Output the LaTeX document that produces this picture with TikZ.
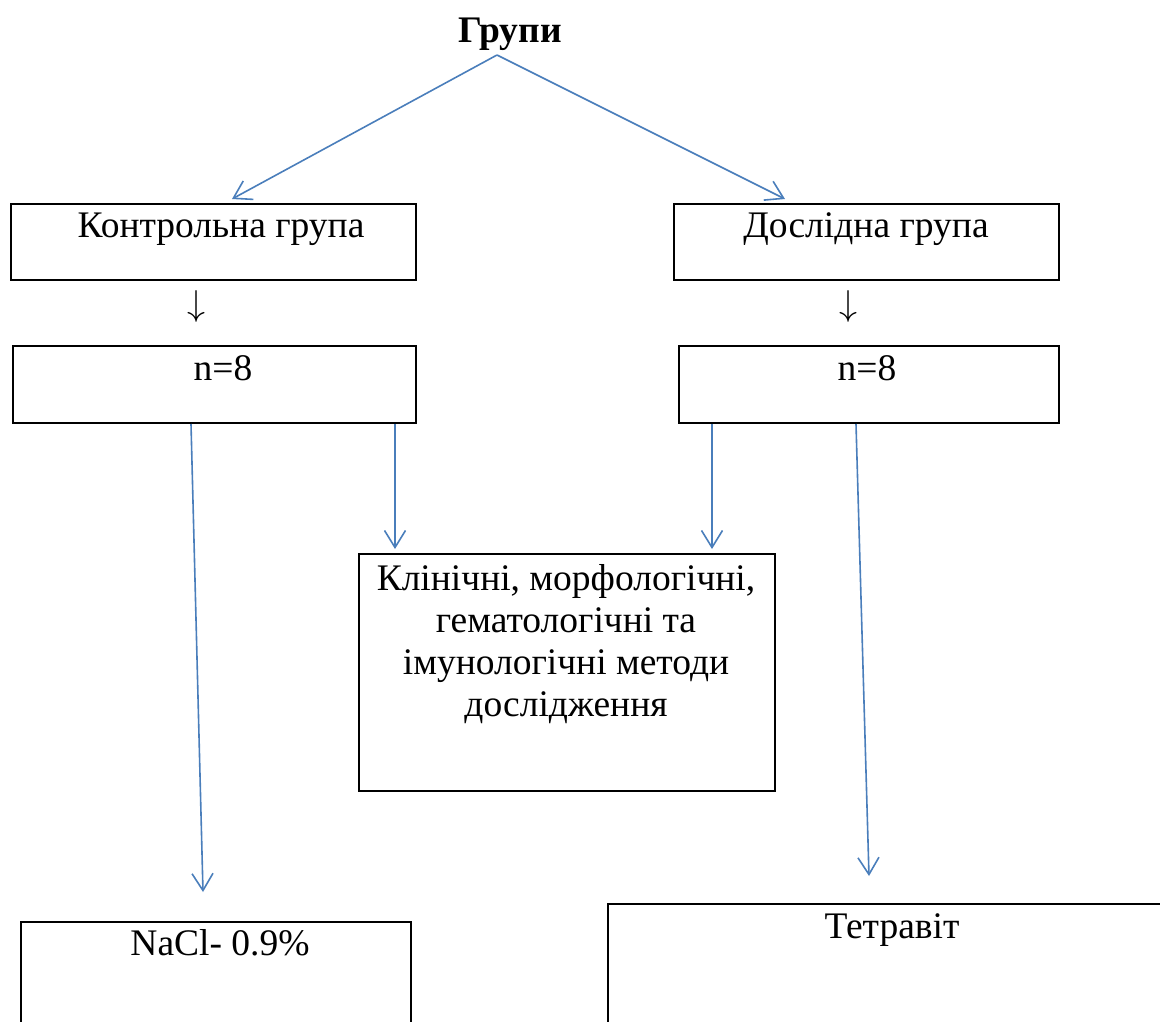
\documentclass[tikz,border=0pt]{standalone}
\usepackage{fontspec}
\setmainfont{Liberation Serif}
\usetikzlibrary{arrows.meta}
\definecolor{lineblue}{HTML}{4A7EBB}
\tikzset{
  box/.style={draw=black, line width=2pt, rectangle, inner sep=0pt, anchor=north west},
  conn/.style={draw=lineblue, line width=1.6pt, -{Straight Barb[length=17pt,width=21pt,line width=1.6pt]}},
  lbl/.style={inner sep=0pt, font=\fontsize{37.5}{42}\selectfont},
}
\newcommand{\bigdown}{\resizebox*{!}{32pt}{$\downarrow$}}
\begin{document}
\begin{tikzpicture}[x=1pt,y=-1pt]
\useasboundingbox (0,0) rectangle (1160,1021);
\clip (0,0) rectangle (1160,1021);
% boxes
\node[box, minimum width=405pt, minimum height=76pt] (kont) at (10,203) {};
\node[box, minimum width=385pt, minimum height=76pt] (dosl) at (673,203) {};
\node[box, minimum width=403pt, minimum height=77pt] (nL) at (12,345) {};
\node[box, minimum width=380pt, minimum height=77pt] (nR) at (678,345) {};
\node[box, minimum width=416pt, minimum height=237pt] (meth) at (358,553) {};
\node[box, minimum width=390pt, minimum height=200pt] (nacl) at (20,921) {};
\node[box, minimum width=600pt, minimum height=200pt] (tetra) at (607,903) {};
% texts
\node[lbl, anchor=base] (title) at (510,42) {\bfseries Групи};
\node[lbl, anchor=base] (kontT) at (221,237) {Контрольна група};
\node[lbl, anchor=base] (doslT) at (866,237) {Дослідна група};
\node[lbl, anchor=center] (darL) at (196,306) {\bigdown};
\node[lbl, anchor=center] (darR) at (848,306) {\bigdown};
\node[lbl, anchor=base] (nLT) at (223,380) {n=8};
\node[lbl, anchor=base] (nRT) at (867,380) {n=8};
\node[lbl, anchor=north, align=center] (methT) at (566,564) {Клінічні, морфологічні,\\ гематологічні та\\ імунологічні методи\\ дослідження};
\node[lbl, anchor=base] (naclT) at (220,955) {NaCl- 0.9\%};
\node[lbl, anchor=base] (tetraT) at (892,938) {Тетравіт};
% connectors
\coordinate (apex) at (497,55);
\draw[conn] (apex) -- ([xshift=222pt,yshift=4pt]kont.north west);
\draw[conn] (apex) -- ([xshift=112pt,yshift=4pt]dosl.north west);
\draw[conn] ([xshift=179pt]nL.south west) -- ([xshift=183pt,yshift=29pt]nacl.north west);
\draw[conn] ([xshift=383pt]nL.south west) -- ([xshift=37pt,yshift=4pt]meth.north west);
\draw[conn] ([xshift=34pt]nR.south west) -- ([xshift=354pt,yshift=4pt]meth.north west);
\draw[conn] ([xshift=178pt]nR.south west) -- ([xshift=262pt,yshift=27pt]tetra.north west);
\end{tikzpicture}
\end{document}
